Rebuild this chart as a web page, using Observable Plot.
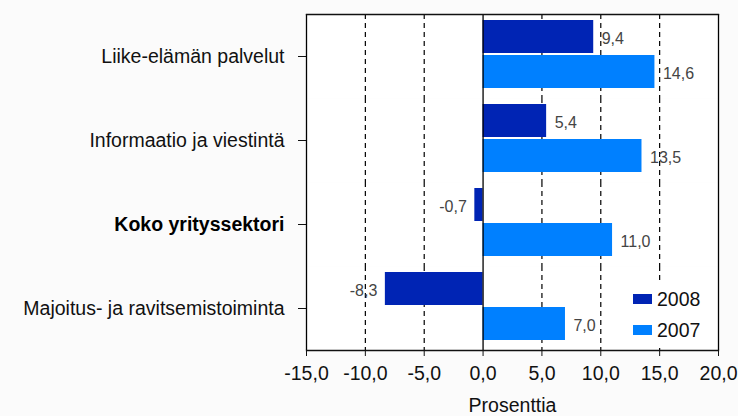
<!DOCTYPE html>
<html><head><meta charset="utf-8">
<script src="https://cdn.jsdelivr.net/npm/d3@7"></script>
<script src="https://cdn.jsdelivr.net/npm/@observablehq/plot@0.6"></script>
<style>
body{margin:0;background:#fbfbfb;}
#wrap{position:relative;width:738px;height:416px;font-family:'Liberation Sans',Arial,sans-serif;}
#legend{position:absolute;left:622px;top:283px;width:94px;height:65px;background:#fff;}
#legend .row{position:absolute;left:11px;height:20px;display:flex;align-items:center;font-size:19.5px;color:#111;}
#legend .sw{width:19px;height:10px;margin-right:5px;}
</style></head><body><div id="wrap"></div>
<script>
const categories = ["Liike-elämän palvelut", "Informaatio ja viestintä", "Koko yrityssektori", "Majoitus- ja ravitsemistoiminta"];
const boldCategory = "Koko yrityssektori";
const years = ["2008", "2007"];
const values2008 = [9.4, 5.4, -0.7, -8.3];
const values2007 = [14.6, 13.5, 11.0, 7.0];
const xTicks = [-15, -10, -5, 0, 5, 10, 15, 20];
const gridTicks = [-10, -5, 5, 10, 15];
const colors = ["#0024b4", "#0080ff"];
const axisTitle = "Prosenttia";

const data = categories.flatMap((c, i) => [
  {category: c, year: years[0], value: values2008[i]},
  {category: c, year: years[1], value: values2007[i]}
]);
const fmt = v => v.toFixed(1).replace(".", ",");

const chart = Plot.plot({
  width: 738, height: 416,
  marginLeft: 306, marginRight: 20, marginTop: 13, marginBottom: 65,
  style: {fontFamily: "'Liberation Sans', Arial, sans-serif", fontSize: "19.5px", background: "transparent", color: "#111", overflow: "visible"},
  x: {domain: [-15, 20], ticks: xTicks, tickFormat: fmt, tickSize: 6, tickPadding: 10, label: axisTitle, labelAnchor: "center", labelArrow: "none", labelOffset: 61},
  y: {domain: years, axis: null, paddingInner: 0.06, paddingOuter: 0.2, align: 0.4},
  fy: {domain: categories, padding: 0, axis: "left", tickSize: 8, tickPadding: 0, tickFormat: () => "", label: null},
  color: {domain: years, range: colors},
  marks: [
    Plot.frame({fill: "white", stroke: null}),
    Plot.ruleX(gridTicks, {stroke: "black", strokeDasharray: "5,4", strokeWidth: 1.2}),
    Plot.barX(data, {fy: "category", y: "year", x: "value", fill: "year"}),
    Plot.ruleX([0], {stroke: "black", strokeWidth: 1.3}),
    Plot.ruleX([-15, 20], {stroke: "black", strokeWidth: 1.3}),
    Plot.frame({anchor: "top", facetAnchor: "top", strokeWidth: 1.3}),
    Plot.frame({anchor: "bottom", facetAnchor: "bottom", strokeWidth: 1.3}),
    Plot.text(data.filter(d => d.value >= 0), {fy: "category", y: "year", x: "value", text: d => fmt(d.value), textAnchor: "start", dx: 8, dy: 2, fontSize: 16, fill: "#444"}),
    Plot.text(data.filter(d => d.value < 0), {fy: "category", y: "year", x: "value", text: d => fmt(d.value), textAnchor: "end", dx: -8, dy: 2, fontSize: 16, fill: "#444"}),
    Plot.text(categories.filter(c => c !== boldCategory), {fy: d => d, text: d => d, frameAnchor: "left", dx: -22, textAnchor: "end", fill: "#111"}),
    Plot.text([boldCategory], {fy: d => d, text: d => d, frameAnchor: "left", dx: -22, textAnchor: "end", fill: "#000", fontWeight: "bold"})
  ]
});
const wrap = document.getElementById("wrap");
wrap.appendChild(chart);

const legend = d3.select(wrap).append("div").attr("id", "legend");
years.forEach((y, i) => {
  const row = legend.append("div").attr("class", "row").style("top", (6 + i * 31) + "px");
  row.append("div").attr("class", "sw").style("background", colors[i]);
  row.append("span").text(y);
});
</script>
</body></html>
